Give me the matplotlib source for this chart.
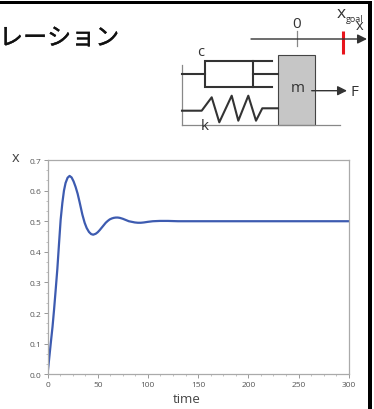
import numpy as np
import matplotlib
matplotlib.use("Agg")
import matplotlib.pyplot as plt
import matplotlib.patheffects as pe
from matplotlib.patches import Rectangle

plt.rcParams['font.family'] = ['Open Sans', 'DejaVu Sans']

# step response
time = [0, 1, 2, 3.2, 5, 6.5, 8, 9.8, 11.5, 13.1, 14.8, 16.4, 18, 20, 22, 24, 26, 28, 30, 32, 34.7,
        37, 39, 41.3, 43.5, 45.5, 48, 50, 52, 54, 56, 58, 60, 62, 64, 66, 68, 70, 72, 75, 78, 81, 84,
        87, 90, 93, 96, 100, 105, 112, 120, 130, 140, 160, 200, 250, 300]
x_pos = [0.0, 0.03, 0.062, 0.1, 0.155, 0.21, 0.27, 0.344, 0.428, 0.505, 0.56, 0.6, 0.625, 0.642,
         0.648, 0.643, 0.63, 0.612, 0.59, 0.562, 0.522, 0.495, 0.478, 0.465, 0.458, 0.456, 0.459,
         0.464, 0.471, 0.479, 0.487, 0.495, 0.501, 0.506, 0.509, 0.511, 0.512, 0.512, 0.511, 0.508,
         0.504, 0.5, 0.498, 0.496, 0.495, 0.495, 0.496, 0.498, 0.5, 0.501, 0.501, 0.5, 0.5, 0.5,
         0.5, 0.5, 0.5]
x_ticks = [0, 50, 100, 150, 200, 250, 300]
y_ticks = [0.0, 0.1, 0.2, 0.3, 0.4, 0.5, 0.6, 0.7]

W, H = 374, 410
fig = plt.figure(figsize=(W / 100, H / 100), dpi=100, facecolor="white")

# overlay in pixel coordinates for the frame, title and the mass-spring sketch
bg = fig.add_axes([0, 0, 1, 1])
bg.set_xlim(0, W)
bg.set_ylim(H, 0)
bg.axis("off")

bg.add_patch(Rectangle((0, 2), 372, 2.5, fc="black", ec="none"))
bg.add_patch(Rectangle((368, 2), 4, 408, fc="black", ec="none"))
title = bg.text(119, 39, "シミュレーション", ha="right", va="center", fontsize=17.3,
                family=["Noto Sans CJK JP", "DejaVu Sans"], color="#111111")
title.set_path_effects([pe.withStroke(linewidth=0.25, foreground="#111111")])

dark = "#333333"
gray = "#888888"
bg.plot([182.3, 182.3], [66, 125.7], color=gray, lw=0.9)
bg.plot([182, 340], [125.7, 125.7], color=gray, lw=0.9)
# damper
bg.plot([182, 205], [75, 75], color=dark, lw=1.5)
bg.add_patch(Rectangle((205, 61.7), 48, 26.6, fc="none", ec=dark, lw=1.5))
bg.plot([253, 271.7], [61.7, 61.7], color=dark, lw=1.5)
bg.plot([253, 271.7], [88.3, 88.3], color=dark, lw=1.5)
bg.plot([253, 278], [75, 75], color=dark, lw=1.5)
# spring
sx = [182, 201.7, 211.7, 219.3, 231.7, 238.3, 248.3, 256, 262.3, 278]
sy = [111.7, 111.7, 98.3, 123.3, 96.7, 121.7, 96.7, 121.7, 109.3, 109.3]
bg.plot(sx, sy, color=dark, lw=1.5)
# mass
bg.add_patch(Rectangle((278.3, 56), 37, 69.7, fc="#c6c6c6", ec="#444444", lw=0.8))
bg.text(298, 88, "m", ha="center", va="center", fontsize=11, color=dark)
bg.annotate("", xy=(347, 91.7), xytext=(311.7, 91.7),
            arrowprops=dict(arrowstyle="-|>", color=dark, lw=1.0, mutation_scale=14, shrinkA=0, shrinkB=0))
bg.text(354, 92, "F", ha="center", va="center", fontsize=11, color=dark)
bg.text(201, 52, "c", ha="center", va="center", fontsize=10.5, color=dark)
bg.text(205, 127, "k", ha="center", va="center", fontsize=11, color=dark)
# x axis of the sketch
bg.annotate("", xy=(367, 40), xytext=(251, 40),
            arrowprops=dict(arrowstyle="-|>", color=dark, lw=1.0, mutation_scale=14, shrinkA=0, shrinkB=0))
bg.plot([296.7, 296.7], [32, 47], color=gray, lw=0.9)
bg.text(297, 24, "0", ha="center", va="center", fontsize=11, color=dark)
bg.plot([342.7, 342.7], [32, 55], color="#e8141c", lw=2.2, solid_capstyle="butt")
bg.text(341, 14, "x", ha="center", va="center", fontsize=12.5, color=dark)
bg.text(355, 20, "goal", ha="center", va="center", fontsize=6.5, color=dark)
bg.text(360, 27, "x", ha="center", va="center", fontsize=10.5, color=dark)

# response chart
ax = fig.add_axes([47.5 / W, 1 - 375.3 / H, (348.7 - 47.5) / W, (375.3 - 161) / H])
ax.patch.set_alpha(0)
ax.plot(time, x_pos, color="#3d5bb0", lw=1.6)
ax.set_xlim(0, 300)
ax.set_ylim(0, 0.7)
ax.set_xticks(x_ticks)
ax.set_xticklabels([str(t) for t in x_ticks])
ax.set_yticks(y_ticks)
ax.set_yticklabels([f"{v:.1f}" for v in y_ticks])
ax.set_xticks(np.arange(0, 300.1, 12.5), minor=True)
ax.set_yticks(np.arange(0, 0.7001, 0.1 / 3), minor=True)
ax.tick_params(axis="both", which="major", length=3, width=0.6, color="#888888",
               labelsize=6, labelcolor="#555555", pad=1.5)
ax.tick_params(axis="both", which="minor", length=1.5, width=0.5, color="#aaaaaa")
for s in ax.spines.values():
    s.set_color("#aaaaaa")
    s.set_linewidth(0.9)

bg.text(16, 159, "x", ha="center", va="center", fontsize=10.5, color="#444444")
bg.text(187, 400, "time", ha="center", va="center", fontsize=9.5, color="#444444")

fig.savefig("out.png", dpi=100)
